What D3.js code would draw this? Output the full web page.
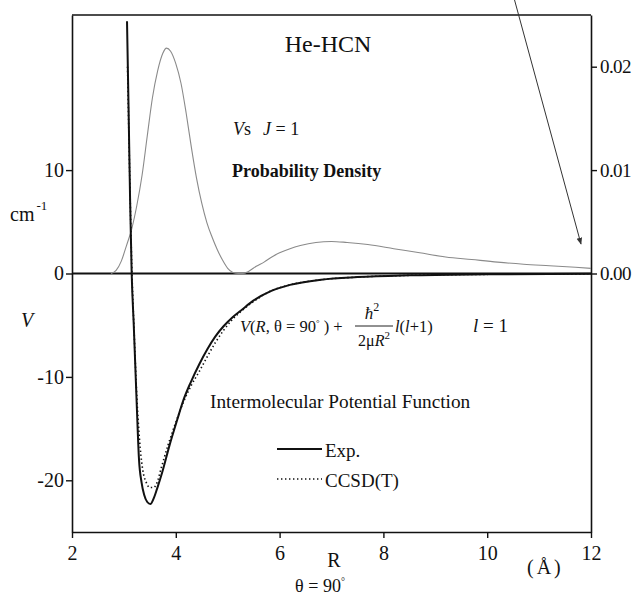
<!DOCTYPE html>
<html>
<head>
<meta charset="utf-8">
<script src="https://cdn.jsdelivr.net/npm/d3@7"></script>
<style>
  body { margin: 0; background: #fff; }
  svg text { font-family: "Liberation Serif", "Times New Roman", serif; fill: #111; }
</style>
</head>
<body>
<svg id="chart"></svg>
<script>
// R grid (Angstrom) and potential (cm-1) for the experimental curve
const expR = [3.06, 3.09, 3.12, 3.15, 3.19, 3.22, 3.25, 3.29, 3.34, 3.39, 3.45, 3.51, 3.57, 3.64,
  3.74, 3.88, 4.03, 4.15, 4.29, 4.45, 4.61, 4.76, 4.92, 5.10, 5.25, 5.50, 5.83, 6.20, 6.80,
  7.50, 8.50, 10.0, 12.0];
const expV = [24.4, 16, 7, 0, -5, -9, -13, -17.9, -20.2, -21.4, -22.1, -22.3, -21.8, -20.8,
  -19.2, -16.6, -14.1, -12.2, -10.5, -8.8, -7.3, -6.1, -5.1, -4.2, -3.6, -2.6, -1.7, -1.1, -0.6,
  -0.35, -0.18, -0.08, -0.03];

// CCSD(T) curve
const ccsdR = [3.07, 3.11, 3.15, 3.20, 3.25, 3.30, 3.36, 3.43, 3.50, 3.57, 3.64, 3.72, 3.85,
  4.00, 4.15, 4.30, 4.45, 4.60, 4.76, 4.92, 5.10, 5.25, 5.50, 5.83, 6.20, 6.80, 7.50, 8.50,
  10.0, 12.0];
const ccsdV = [20, 10, 1, -6, -12, -16, -18.9, -20.2, -20.7, -20.7, -20.2, -18.8, -16.6,
  -14.4, -12.4, -10.8, -9.5, -8.1, -6.7, -5.5, -4.4, -3.7, -2.7, -1.7, -1.1, -0.6, -0.35, -0.18,
  -0.08, -0.03];

// probability density, Vs J = 1 (right axis)
const densR = [2.75, 2.85, 2.95, 3.05, 3.15, 3.25, 3.35, 3.45, 3.55, 3.65, 3.75, 3.82, 3.9,
  4.0, 4.1, 4.2, 4.3, 4.4, 4.5, 4.6, 4.7, 4.8, 4.9, 5.0, 5.1, 5.2, 5.3, 5.4, 5.55, 5.7, 5.85,
  6.0, 6.2, 6.4, 6.7, 7.0, 7.3, 7.7, 8.2, 8.7, 9.2, 9.7, 10.2, 10.7, 11.2, 11.7, 12.0];
const densP = [0, 0.0003, 0.0012, 0.0027, 0.0043, 0.0066, 0.0095, 0.0133, 0.0170, 0.0196,
  0.0213, 0.0218, 0.0215, 0.0203, 0.0184, 0.0155, 0.0122, 0.0092, 0.0068, 0.0049, 0.0035,
  0.0023, 0.0013, 0.0005, 0.0001, 0, 0, 0.0002, 0.0007, 0.0011, 0.0016, 0.0020, 0.0024,
  0.0027, 0.0030, 0.0031, 0.0030, 0.0028, 0.0024, 0.0020, 0.0016, 0.00135, 0.0011, 0.0009,
  0.00075, 0.0006, 0.0005];

const xTicks = [2, 4, 6, 8, 10, 12];
const yTicks = [-20, -10, 0, 10];
const y2Ticks = [0, 0.01, 0.02];

const W = 635, H = 599;
const margin = { top: 15, right: 44, bottom: 67, left: 72 };
const width = W - margin.left - margin.right;
const height = H - margin.top - margin.bottom;

const svg = d3.select("#chart").attr("width", W).attr("height", H);
const g = svg.append("g").attr("transform", `translate(${margin.left},${margin.top})`);

const x = d3.scaleLinear().domain([2, 12]).range([0, width]);
const y = d3.scaleLinear().domain([-25, 25]).range([height, 0]);
const y2 = d3.scaleLinear().domain([-0.025, 0.025]).range([height, 0]);

// axes
const styleAxis = sel => {
  sel.attr("font-family", "Liberation Serif");
  sel.selectAll("path").attr("stroke", "#111").attr("stroke-width", 1.6);
  sel.selectAll("line").attr("stroke", "#111").attr("stroke-width", 1.4);
  sel.selectAll("text").attr("font-size", 20).attr("fill", "#111");
};

g.append("g")
  .attr("transform", `translate(0,${height})`)
  .call(d3.axisBottom(x).tickValues(xTicks).tickSize(6).tickPadding(8).tickSizeOuter(0))
  .call(styleAxis);

g.append("g")
  .call(d3.axisLeft(y).tickValues(yTicks).tickSize(6).tickPadding(2).tickSizeOuter(0)
    .tickFormat(d => String(d)))
  .call(styleAxis);

g.append("g")
  .attr("transform", `translate(${width},0)`)
  .call(d3.axisRight(y2).tickValues(y2Ticks).tickSize(6).tickPadding(3).tickSizeOuter(0)
    .tickFormat(d3.format(".2f")))
  .call(styleAxis)
  .call(a => a.selectAll("text").attr("font-size", 19).attr("letter-spacing", -0.6));

// top border
g.append("line")
  .attr("x1", 0).attr("x2", width).attr("y1", 0).attr("y2", 0)
  .attr("stroke", "#111").attr("stroke-width", 1.6);

// zero line
g.append("line")
  .attr("x1", 0).attr("x2", width).attr("y1", y(0)).attr("y2", y(0))
  .attr("stroke", "#111").attr("stroke-width", 2.2);

// probability density
const dens = densR.map((r, i) => [r, densP[i]]);
g.append("path")
  .datum(dens)
  .attr("fill", "none")
  .attr("stroke", "#8a8a8a")
  .attr("stroke-width", 1.1)
  .attr("d", d3.line().x(d => x(d[0])).y(d => y2(d[1])).curve(d3.curveMonotoneX));

// potentials
const lineV = d3.line().x(d => x(d[0])).y(d => y(d[1])).curve(d3.curveMonotoneX);

g.append("path")
  .datum(ccsdR.map((r, i) => [r, ccsdV[i]]))
  .attr("fill", "none")
  .attr("stroke", "#111")
  .attr("stroke-width", 1.6)
  .attr("stroke-dasharray", "1.4,2.6")
  .attr("d", lineV);

g.append("path")
  .datum(expR.map((r, i) => [r, expV[i]]))
  .attr("fill", "none")
  .attr("stroke", "#111")
  .attr("stroke-width", 2)
  .attr("d", lineV);

// arrow
svg.append("defs").append("marker")
  .attr("id", "head")
  .attr("viewBox", "0 0 10 10")
  .attr("refX", 9).attr("refY", 5)
  .attr("markerWidth", 7).attr("markerHeight", 7)
  .attr("orient", "auto")
  .append("path").attr("d", "M0,1 L10,5 L0,9 Z").attr("fill", "#333");

svg.append("line")
  .attr("x1", 514).attr("y1", -2).attr("x2", 581).attr("y2", 244)
  .attr("stroke", "#333").attr("stroke-width", 1)
  .attr("marker-end", "url(#head)");

// labels
svg.append("text").attr("x", 328).attr("y", 52).attr("text-anchor", "middle")
  .attr("font-size", 24).text("He-HCN");

const vs = svg.append("text").attr("x", 233).attr("y", 135).attr("font-size", 18);
vs.append("tspan").attr("font-style", "italic").text("V");
vs.append("tspan").text("s");
vs.append("tspan").attr("dx", 12).attr("font-style", "italic").text("J");
vs.append("tspan").text(" = 1");

svg.append("text").attr("x", 232).attr("y", 177).attr("font-size", 18)
  .attr("font-weight", "bold").text("Probability Density");

const cm = svg.append("text").attr("x", 10).attr("y", 221).attr("font-size", 20);
cm.append("tspan").text("cm");
cm.append("tspan").attr("dy", -11).attr("dx", 2).attr("font-size", 13).text("-1");

svg.append("text").attr("x", 21).attr("y", 327).attr("font-size", 20)
  .attr("font-style", "italic").text("V");

// formula
const f1 = svg.append("text").attr("x", 240).attr("y", 332).attr("font-size", 16.5);
f1.append("tspan").attr("font-style", "italic").text("V");
f1.append("tspan").text("(");
f1.append("tspan").attr("font-style", "italic").text("R");
f1.append("tspan").text(", θ = 90");
f1.append("tspan").attr("dy", -6).attr("font-size", 9).text("°");
f1.append("tspan").attr("dy", 6).text(" ) +");

const num = svg.append("text").attr("x", 372).attr("y", 319).attr("font-size", 17)
  .attr("text-anchor", "middle");
num.append("tspan").attr("font-style", "italic").text("ħ");
num.append("tspan").attr("dy", -8).attr("font-size", 12).text("2");

svg.append("line").attr("x1", 355).attr("x2", 393).attr("y1", 326).attr("y2", 326)
  .attr("stroke", "#222").attr("stroke-width", 1);

const den = svg.append("text").attr("x", 374).attr("y", 346).attr("font-size", 16)
  .attr("text-anchor", "middle");
den.append("tspan").text("2μ");
den.append("tspan").attr("font-style", "italic").text("R");
den.append("tspan").attr("dy", -7).attr("font-size", 11).text("2");

const ll = svg.append("text").attr("x", 395).attr("y", 332).attr("font-size", 16.5);
ll.append("tspan").attr("font-style", "italic").text("l");
ll.append("tspan").text("(");
ll.append("tspan").attr("font-style", "italic").text("l");
ll.append("tspan").text("+1)");

const l1 = svg.append("text").attr("x", 473).attr("y", 332).attr("font-size", 19);
l1.append("tspan").attr("font-style", "italic").text("l");
l1.append("tspan").text(" = 1");

svg.append("text").attr("x", 210).attr("y", 408).attr("font-size", 19.3)
  .text("Intermolecular Potential Function");

// legend
svg.append("line").attr("x1", 277).attr("x2", 322).attr("y1", 449).attr("y2", 449)
  .attr("stroke", "#111").attr("stroke-width", 2);
svg.append("text").attr("x", 325).attr("y", 457).attr("font-size", 19).text("Exp.");
svg.append("line").attr("x1", 277).attr("x2", 322).attr("y1", 479).attr("y2", 479)
  .attr("stroke", "#111").attr("stroke-width", 1.6).attr("stroke-dasharray", "1.4,2.6");
svg.append("text").attr("x", 325).attr("y", 487).attr("font-size", 19).text("CCSD(T)");

// axis titles
svg.append("text").attr("x", 334).attr("y", 567).attr("text-anchor", "middle")
  .attr("font-size", 20).text("R");
svg.append("text").attr("x", 527).attr("y", 574).attr("font-size", 20)
  .attr("letter-spacing", 3).text("(Å)");
const th = svg.append("text").attr("x", 320).attr("y", 592).attr("text-anchor", "middle")
  .attr("font-size", 18);
th.append("tspan").text("θ = 90");
th.append("tspan").attr("dy", -7).attr("font-size", 10).text("°");
</script>
</body>
</html>
